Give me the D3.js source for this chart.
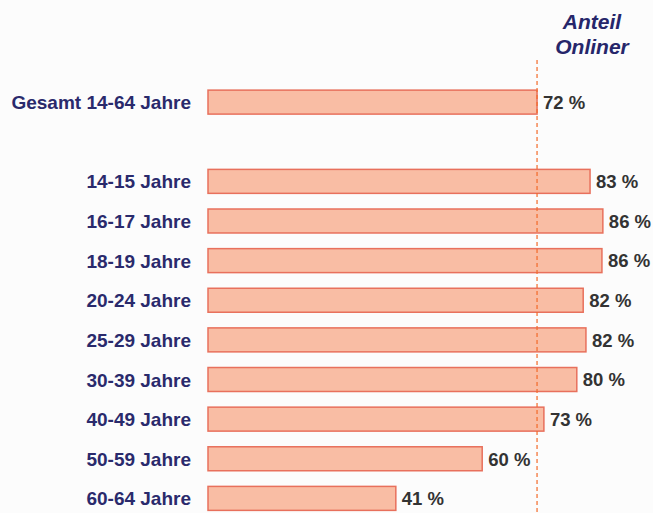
<!DOCTYPE html>
<html>
<head>
<meta charset="utf-8">
<script src="https://cdn.jsdelivr.net/npm/d3@7"></script>
<style>
  body { margin: 0; background: #fcfcfc; }
  svg { display: block; font-family: "Liberation Sans", Arial, sans-serif; }
</style>
</head>
<body>
<div id="chart"></div>
<script>
// age groups, "" is the empty gap row under the total
var groups = ["Gesamt 14-64 Jahre", "", "14-15 Jahre", "16-17 Jahre", "18-19 Jahre", "20-24 Jahre",
              "25-29 Jahre", "30-39 Jahre", "40-49 Jahre", "50-59 Jahre", "60-64 Jahre"];
var shares = [72.0, null, 83.6, 86.4, 86.2, 82.1, 82.7, 80.7, 73.5, 60.0, 41.1];
var shareLabels = ["72 %", "", "83 %", "86 %", "86 %", "82 %", "82 %", "80 %", "73 %", "60 %", "41 %"];
var reference = 72; // dashed line = total

var width = 653, height = 513;

var svg = d3.select("#chart")
    .append("svg")
    .attr("width", width)
    .attr("height", height);

var x = d3.scaleLinear()
    .domain([0, 100])
    .range([208, 208 + 457]);

var y = d3.scaleBand()
    .domain(groups.map(function(d, i) { return i; }))
    .range([82.2, 518.3])
    .paddingInner(0.395)
    .paddingOuter(0.2);

var rows = groups.map(function(g, i) {
  return {name: g, value: shares[i], label: shareLabels[i], i: i};
}).filter(function(d) { return d.value !== null; });

// header
svg.append("text")
    .attr("text-anchor", "middle")
    .attr("fill", "#26266a")
    .style("font-weight", "bold")
    .style("font-style", "italic")
    .style("font-size", "21px")
    .selectAll("tspan")
    .data(["Anteil", "Onliner"])
    .enter()
    .append("tspan")
    .attr("x", 592)
    .attr("y", function(d, i) { return 29 + i * 25; })
    .text(function(d) { return d; });

// bars
svg.selectAll("rect.bar")
    .data(rows)
    .enter()
    .append("rect")
    .attr("class", "bar")
    .attr("x", x(0))
    .attr("y", function(d) { return y(d.i); })
    .attr("width", function(d) { return x(d.value) - x(0); })
    .attr("height", y.bandwidth())
    .attr("fill", "#f9bda4")
    .attr("stroke", "#e8705c")
    .attr("stroke-width", 1.5);

// reference line
svg.append("line")
    .attr("x1", x(reference))
    .attr("x2", x(reference))
    .attr("y1", 60)
    .attr("y2", height)
    .attr("stroke", "#f26a2a")
    .attr("stroke-width", 1.2)
    .attr("stroke-dasharray", "4,3");

// category labels
svg.selectAll("text.cat")
    .data(rows)
    .enter()
    .append("text")
    .attr("class", "cat")
    .attr("x", 191)
    .attr("y", function(d) { return y(d.i) + y.bandwidth() / 2; })
    .attr("dy", "0.37em")
    .attr("text-anchor", "end")
    .attr("fill", "#2a2a6c")
    .style("font-weight", "bold")
    .style("font-size", "19px")
    .text(function(d) { return d.name; });

// value labels
svg.selectAll("text.val")
    .data(rows)
    .enter()
    .append("text")
    .attr("class", "val")
    .attr("x", function(d) { return x(d.value) + 6; })
    .attr("y", function(d) { return y(d.i) + y.bandwidth() / 2; })
    .attr("dy", "0.37em")
    .attr("fill", "#333333")
    .style("font-weight", "bold")
    .style("font-size", "18.5px")
    .text(function(d) { return d.label; });
</script>
</body>
</html>
